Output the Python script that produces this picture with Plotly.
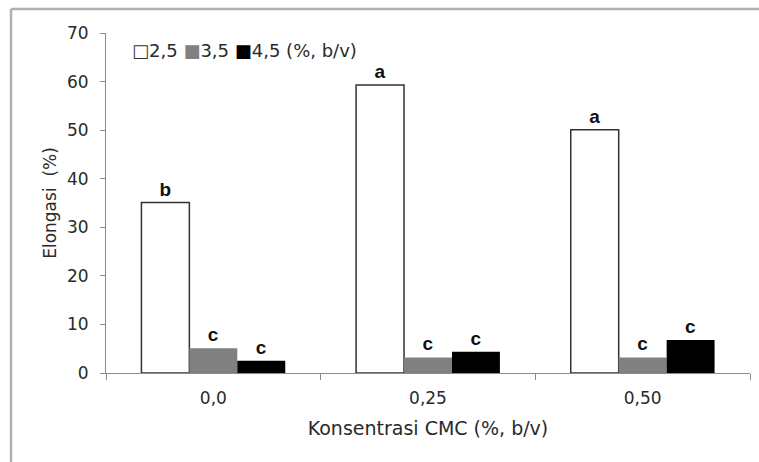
import plotly.graph_objects as go

categories = ["0,0", "0,25", "0,50"]
series_names = ["2,5", "3,5", "4,5 (%, b/v)"]
vals_25 = [35.1, 59.3, 50.1]
vals_35 = [5.1, 3.2, 3.2]
vals_45 = [2.5, 4.4, 6.8]
letters_25 = ["b", "a", "a"]
letters_35 = ["c", "c", "c"]
letters_45 = ["c", "c", "c"]

FONT = "DejaVu Sans, Liberation Sans, Arial, sans-serif"
BFONT = "Liberation Sans, Arial, sans-serif"
TXT = "#2a2a2a"

fig = go.Figure()
specs = [
    (vals_25, letters_25, "white", "#333333", 1.5),
    (vals_35, letters_35, "#808080", "#808080", 0),
    (vals_45, letters_45, "#000000", "#000000", 0),
]
for name, (vals, letters, fill, line, lw) in zip(series_names, specs):
    fig.add_trace(go.Bar(
        x=categories, y=vals, name=name,
        marker=dict(color=fill, line=dict(color=line, width=lw)),
        text=letters, textposition="outside",
        textfont=dict(family=BFONT, size=19, color="#111111", weight="bold"),
        cliponaxis=False, showlegend=False,
    ))

# legend drawn as text
legend_text = (
    "<span style='color:#333'>□</span>2,5 "
    "<span style='color:#808080'>■</span>3,5 "
    "<span style='color:#000'>■</span>4,5 (%, b/v)"
)
fig.add_annotation(text=legend_text, xref="paper", yref="paper",
                   x=(130 - 106) / 644, y=(373 - 50) / 340,
                   xanchor="left", yanchor="middle", showarrow=False,
                   font=dict(family=FONT, size=18, color=TXT))

# outer frame
W, H = 644, 340
def px(xp):
    return (xp - 106) / W
def py(yp):
    return (373 - yp) / H
fig.add_shape(type="line", xref="paper", yref="paper",
              x0=px(11), x1=px(11), y0=py(9), y1=py(470),
              line=dict(color="#b0b0b0", width=2.5))
fig.add_shape(type="line", xref="paper", yref="paper",
              x0=px(11), x1=px(770), y0=py(9), y1=py(9),
              line=dict(color="#b0b0b0", width=2.5))

fig.update_layout(
    width=759, height=462,
    margin=dict(l=106, r=9, t=33, b=89),
    paper_bgcolor="white", plot_bgcolor="white",
    barmode="group", bargap=0.33, bargroupgap=0,
    font=dict(family=FONT, size=17, color=TXT),
    showlegend=False,
)
fig.update_yaxes(
    range=[0, 70], dtick=10, showgrid=False, zeroline=False,
    showline=True, linecolor="#8c8c8c", linewidth=1,
    ticks="outside", ticklen=5, tickcolor="#8c8c8c",
    ticklabelstandoff=8,
    tickfont=dict(family=FONT, size=17, color=TXT),
    title=dict(text="Elongasi  (%)", font=dict(family=FONT, size=17, color=TXT), standoff=6),
)
fig.update_xaxes(
    showgrid=False, showline=True, linecolor="#8c8c8c", linewidth=1,
    ticks="outside", ticklen=6, tickcolor="#8c8c8c", tickson="boundaries",
    ticklabelstandoff=10,
    tickfont=dict(family=FONT, size=17, color=TXT),
    title=dict(text="Konsentrasi CMC (%, b/v)", font=dict(family=FONT, size=19, color=TXT), standoff=14),
)

fig.write_html("out.html", config={"displayModeBar": False},
               post_script="document.body.style.margin='0';document.body.style.padding='0';")
